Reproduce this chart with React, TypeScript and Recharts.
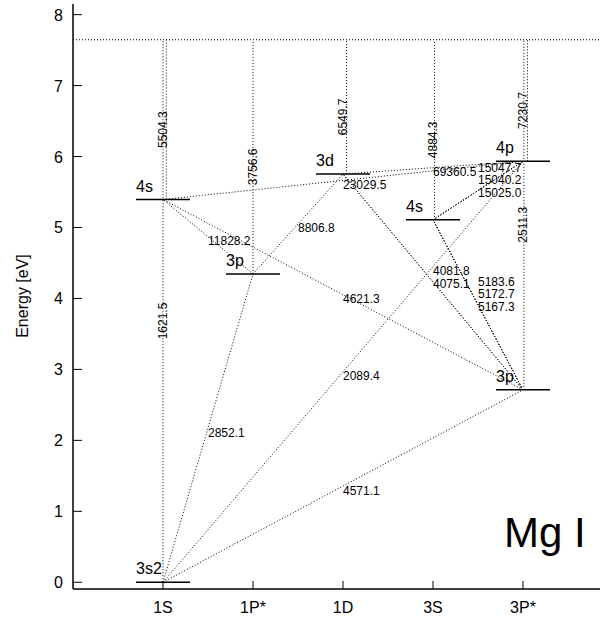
import { ScatterChart, Scatter, XAxis, YAxis, ReferenceLine } from 'recharts'

const FONT = 'Liberation Sans, Arial, Helvetica, sans-serif'

// term columns on the x axis (position 1..5)
const columns = ['1S', '1P*', '1D', '3S', '3P*']
const yTicks = [0, 1, 2, 3, 4, 5, 6, 7, 8]

// energy levels: column, configuration, energy [eV]
const levelColumn = [1, 1, 2, 3, 4, 5, 5]
const levelNames = ['3s2', '4s', '3p', '3d', '4s', '4p', '3p']
const levelEnergy = [0, 5.394, 4.346, 5.753, 5.108, 5.933, 2.712]
const ionizationLimit = 7.646

// transitions (indexes into the level arrays) and wavelengths in Angstrom
const transLower = [0, 0, 0, 2, 6, 2, 1, 3, 4, 6, 6]
const transUpper = [2, 5, 6, 1, 1, 3, 5, 5, 5, 3, 4]
const transWavelengths = [
  ['2852.1'],
  ['2089.4'],
  ['4571.1'],
  ['11828.2'],
  ['4621.3'],
  ['8806.8'],
  ['23029.5'],
  ['69360.5'],
  ['15047.7', '15040.2', '15025.0'],
  ['4081.8', '4075.1'],
  ['5183.6', '5172.7', '5167.3'],
]

// transitions from a level up to the ionization limit
const limitLevel = [0, 1, 2, 3, 4, 5, 6]
const limitWavelength = ['1621.5', '5504.3', '3756.6', '6549.7', '4884.3', '7230.7', '2511.3']

// layout only
const HALF = 0.3
const limitShift = [0, 0.037, 0, 0.04, 0.017, 0.05, 0.01]
const LINE = '#000'
const DASH = '1 2'

const levelLabels = levelNames.map((name, i) => ({
  x: levelColumn[i] - HALF,
  y: levelEnergy[i],
  text: name,
}))

const transLabels = transLower.flatMap((lo, i) => {
  const up = transUpper[i]
  const n = transWavelengths[i].length
  return transWavelengths[i].map((w, k) => ({
    x: (levelColumn[lo] + levelColumn[up]) / 2,
    y: (levelEnergy[lo] + levelEnergy[up]) / 2,
    text: w,
    stack: n - 1 - k,
    n,
  }))
})

const limitLabels = limitLevel.map((lv, i) => ({
  x: levelColumn[lv],
  y: (levelEnergy[lv] + ionizationLimit) / 2,
  text: limitWavelength[i],
}))

function BottomTick(props: any) {
  const { x, y, payload } = props
  return (
    <g>
      <line x1={x} y1={y} x2={x} y2={y - 8} stroke="#000" strokeWidth={1} />
      <text x={x} y={y + 24} textAnchor="middle" fontSize={16} fontFamily={FONT} fill="#000">
        {columns[payload.value - 1]}
      </text>
    </g>
  )
}

function TopTick(props: any) {
  const { x, y } = props
  return <line x1={x} y1={y} x2={x} y2={y + 8} stroke="#000" strokeWidth={1} />
}

function LeftTick(props: any) {
  const { x, y, payload } = props
  return (
    <g>
      <line x1={x} y1={y} x2={x + 9} y2={y} stroke="#000" strokeWidth={1} />
      <text x={x - 10} y={y + 6} textAnchor="end" fontSize={16} fontFamily={FONT} fill="#000">
        {payload.value}
      </text>
    </g>
  )
}

export default function App() {
  return (
    <div style={{ position: 'absolute', left: 0, top: 0, width: 600, height: 621, overflow: 'hidden', background: '#fff' }}>
      <ScatterChart width={613} height={621} margin={{ top: 4, right: 0, bottom: 0, left: 0 }}>
        <XAxis
          dataKey="x"
          type="number"
          domain={[0, 6]}
          ticks={[1, 2, 3, 4, 5]}
          interval={0}
          height={32}
          tickSize={0}
          tickMargin={0}
          tickLine={false}
          tick={<BottomTick />}
          axisLine={{ stroke: '#000', strokeWidth: 1.5 }}
          allowDataOverflow
        />
        <XAxis
          xAxisId="top"
          orientation="top"
          dataKey="x"
          type="number"
          domain={[0, 6]}
          ticks={[1, 2, 3, 4, 5]}
          interval={0}
          height={0}
          tickSize={0}
          tickMargin={0}
          tickLine={false}
          tick={<TopTick />}
          axisLine={{ stroke: '#000', strokeWidth: 1.5 }}
          allowDataOverflow
        />
        <YAxis
          dataKey="y"
          type="number"
          domain={[-0.095, 8.15]}
          ticks={yTicks}
          interval={0}
          width={73}
          tickSize={0}
          tickMargin={0}
          tickLine={false}
          tick={<LeftTick />}
          axisLine={{ stroke: '#000', strokeWidth: 1.5 }}
          allowDataOverflow
        />

        <ReferenceLine y={ionizationLimit} stroke={LINE} strokeDasharray={DASH} strokeWidth={1} />

        {limitLevel.map((lv, i) => (
          <ReferenceLine
            key={'lim' + i}
            segment={[
              { x: levelColumn[lv] + limitShift[lv], y: levelEnergy[lv] },
              { x: levelColumn[lv] + limitShift[lv], y: ionizationLimit },
            ]}
            stroke={LINE}
            strokeDasharray={DASH}
            strokeWidth={1}
          />
        ))}

        {transLower.flatMap((lo, i) =>
          transWavelengths[i].map((w) => (
            <ReferenceLine
              key={'tr' + w}
              segment={[
                { x: levelColumn[lo], y: levelEnergy[lo] },
                { x: levelColumn[transUpper[i]], y: levelEnergy[transUpper[i]] },
              ]}
              stroke={LINE}
              strokeDasharray={DASH}
              strokeWidth={1}
            />
          )),
        )}

        {levelEnergy.map((e, i) => (
          <ReferenceLine
            key={'lv' + i}
            segment={[
              { x: levelColumn[i] - HALF, y: e },
              { x: levelColumn[i] + HALF, y: e },
            ]}
            stroke="#000"
            strokeWidth={1.5}
          />
        ))}

        <Scatter
          data={limitLabels}
          isAnimationActive={false}
          shape={(p: any) => (
            <text
              x={p.cx}
              y={p.cy + 10}
              transform={`rotate(-90 ${p.cx} ${p.cy + 10})`}
              textAnchor="middle"
              dominantBaseline="central"
              fontSize={12}
              fontFamily={FONT}
              fill="#000"
            >
              {p.payload.text}
            </text>
          )}
        />
        <Scatter
          data={transLabels}
          isAnimationActive={false}
          shape={(p: any) => (
            <text
              x={p.cx}
              y={p.cy + (p.payload.n === 1 ? 8.5 : 6) - p.payload.stack * 12.5}
              fontSize={12}
              fontFamily={FONT}
              fill="#000"
            >
              {p.payload.text}
            </text>
          )}
        />
        <Scatter
          data={levelLabels}
          isAnimationActive={false}
          shape={(p: any) => (
            <text x={p.cx} y={p.cy - 8} fontSize={16} fontFamily={FONT} fill="#000">
              {p.payload.text}
            </text>
          )}
        />
      </ScatterChart>
      <svg width={600} height={621} style={{ position: 'absolute', left: 0, top: 0, pointerEvents: 'none' }}>
        <text
          x={28}
          y={296}
          transform="rotate(-90 28 296)"
          textAnchor="middle"
          fontSize={16}
          fontFamily={FONT}
          fill="#000"
        >
          Energy [eV]
        </text>
        <text x={504} y={547} fontSize={42} fontFamily={FONT} fill="#000">
          Mg I
        </text>
      </svg>
    </div>
  )
}
